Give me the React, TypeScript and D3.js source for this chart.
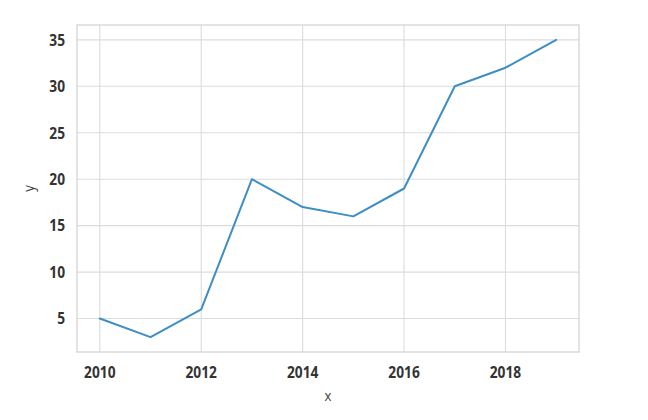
import React, { useRef, useEffect } from 'react';
import * as d3 from 'd3';

const years = [2010, 2011, 2012, 2013, 2014, 2015, 2016, 2017, 2018, 2019];
const values = [5, 3, 6, 20, 17, 16, 19, 30, 32, 35];
const xTicks = [2010, 2012, 2014, 2016, 2018];
const yTicks = [5, 10, 15, 20, 25, 30, 35];

function App() {
  const ref = useRef<SVGSVGElement>(null);

  useEffect(() => {
    const W = 648, H = 420;
    const margin = { top: 25, right: 69, bottom: 68, left: 77 };
    const width = W - margin.left - margin.right;
    const height = H - margin.top - margin.bottom;

    const svg = d3.select(ref.current);
    svg.selectAll('*').remove();

    const g = svg.append('g').attr('transform', `translate(${margin.left},${margin.top})`);

    // matplotlib-like 5% margins
    const xPad = (2019 - 2010) * 0.05;
    const x = d3.scaleLinear().domain([2010 - xPad, 2019 + xPad]).range([0, width]);
    const yPad = (35 - 3) * 0.05;
    const y = d3.scaleLinear().domain([3 - yPad, 35 + yPad]).range([height, 0]);

    // grid
    g.selectAll('.vgrid').data(xTicks).enter().append('line')
      .attr('x1', d => x(d)).attr('x2', d => x(d))
      .attr('y1', 0).attr('y2', height)
      .attr('stroke', '#dcdcdc').attr('stroke-width', 1.1);
    g.selectAll('.hgrid').data(yTicks).enter().append('line')
      .attr('x1', 0).attr('x2', width)
      .attr('y1', d => y(d)).attr('y2', d => y(d))
      .attr('stroke', '#dcdcdc').attr('stroke-width', 1.1);

    // frame
    g.append('rect').attr('width', width).attr('height', height)
      .attr('fill', 'none').attr('stroke', '#d4d4d4').attr('stroke-width', 1.3);

    const tickFont = "'Open Sans', sans-serif";

    g.selectAll('.xt').data(xTicks).enter().append('text')
      .attr('x', d => x(d)).attr('y', height + 26)
      .attr('text-anchor', 'middle')
      .attr('font-family', tickFont).attr('font-weight', 700).attr('font-size', 16)
      .attr('fill', '#333')
      .attr('transform', d => `translate(${x(d)},0) scale(0.86,1) translate(${-x(d)},0)`)
      .text(d => d);

    g.selectAll('.yt').data(yTicks).enter().append('text')
      .attr('x', -12).attr('y', d => y(d)).attr('dy', '0.36em')
      .attr('text-anchor', 'end')
      .attr('font-family', tickFont).attr('font-weight', 700).attr('font-size', 16)
      .attr('fill', '#333')
      .attr('transform', `translate(-12,0) scale(0.86,1) translate(12,0)`)
      .text(d => d);

    // axis labels
    g.append('text')
      .attr('x', width / 2).attr('y', height + 49)
      .attr('text-anchor', 'middle')
      .attr('font-family', tickFont).attr('font-size', 15).attr('fill', '#444')
      .attr('transform', `translate(${width / 2},0) scale(0.88,1) translate(${-width / 2},0)`)
      .text('x');
    g.append('text')
      .attr('transform', `translate(${-43},${height / 2}) rotate(-90) scale(0.88,1)`)
      .attr('text-anchor', 'middle')
      .attr('font-family', tickFont).attr('font-size', 15).attr('fill', '#444')
      .text('y');

    // line
    const line = d3.line<number>()
      .x((d, i) => x(years[i]))
      .y(d => y(d));
    g.append('path')
      .datum(values)
      .attr('d', line)
      .attr('fill', 'none')
      .attr('stroke', '#3d8ec6')
      .attr('stroke-width', 2)
      .attr('stroke-linejoin', 'round')
      .attr('stroke-linecap', 'round');
  }, []);

  return (
    <svg ref={ref} width={648} height={420}
      style={{ position: 'absolute', left: 0, top: 0, background: '#fff' }} />
  );
}

export default App;
